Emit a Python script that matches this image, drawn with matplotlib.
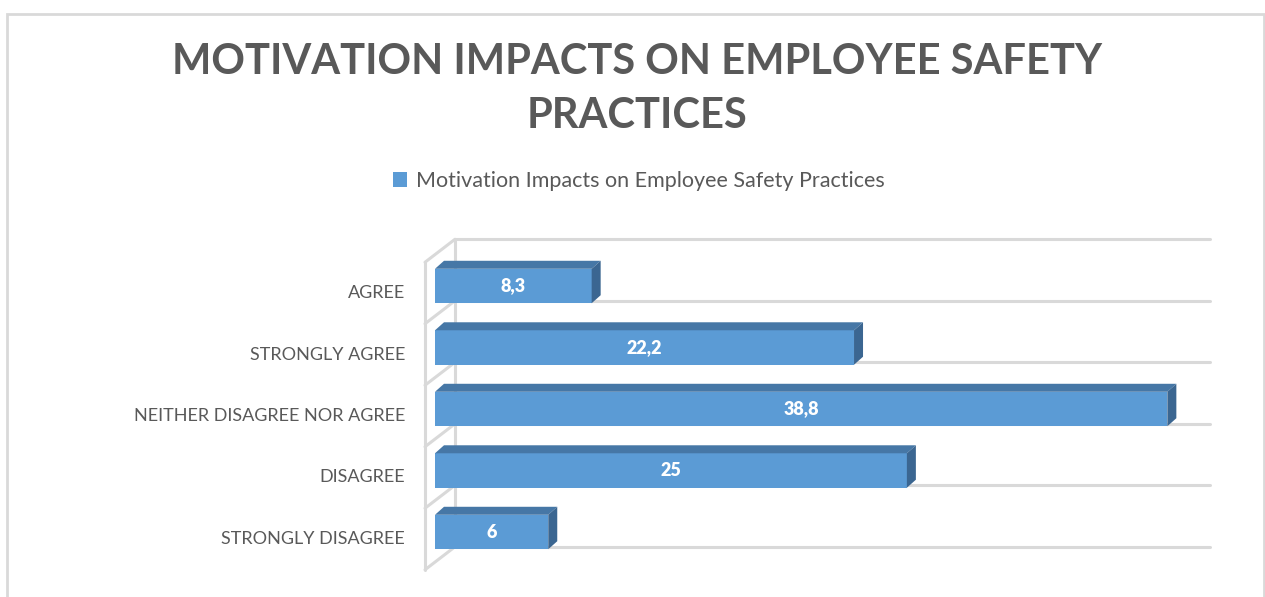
import matplotlib
matplotlib.use('Agg')
import matplotlib.pyplot as plt
from matplotlib.patches import Polygon, Rectangle
from matplotlib.lines import Line2D
from matplotlib.transforms import IdentityTransform, ScaledTranslation
import numpy as np

categories = ['STRONGLY DISAGREE', 'DISAGREE', 'NEITHER DISAGREE NOR AGREE',
              'STRONGLY AGREE', 'AGREE']
values = [6, 25, 38.8, 22.2, 8.3]
series_name = 'Motivation Impacts on Employee Safety Practices'
title = 'MOTIVATION IMPACTS ON EMPLOYEE SAFETY\nPRACTICES'

plt.rcParams['font.family'] = ['Lato', 'DejaVu Sans']
text_c = '#595959'
front_c = '#5b9bd5'
top_c = '#4677a6'
side_c = '#3b6691'
wall_c = '#d9d9d9'

W, H = 1265, 597
fig = plt.figure(figsize=(W / 100, H / 100), dpi=100)
fig.patch.set_facecolor('white')

# axes = plane of the bar front faces
ax = fig.add_axes([435 / W, 34.25 / H, 755 / W, 307.5 / H])
ax.set_xlim(0, 40)
ax.set_ylim(-0.5, 4.5)
ax.axis('off')

y = np.arange(len(categories))
bh = 0.56
bars = ax.barh(y, values, height=bh, color=front_c, zorder=3, label=series_name)

def px(x, yy, dx=0, dy=0):
    p = ax.transData.transform((x, yy))
    return (p[0] + dx, p[1] + dy)

front = (-10, -7)   # wall front plane
back = (20, 16)     # wall back plane
depth = (9, 8)      # bar depth

# walls and category gridlines (behind the bars)
lw = 2.2
def seg(p, q):
    ax.add_line(Line2D([p[0], q[0]], [p[1], q[1]], transform=IdentityTransform(),
                       color=wall_c, lw=lw, zorder=1, solid_capstyle='round',
                       clip_on=False))

seg(px(0, -0.5, *front), px(0, 4.5, *front))
seg(px(0, -0.5, *back), px(0, 4.5, *back))
for b in np.arange(-0.5, 4.6, 1.0):
    seg(px(0, b, *front), px(0, b, *back))
    seg(px(0, b, *back), px(40, b, *back))

# 3d faces of the bars
for yi, v in zip(y, values):
    t, btm = yi + bh / 2, yi - bh / 2
    top = [px(0, t), px(v, t), px(v, t, *depth), px(0, t, *depth)]
    side = [px(v, btm), px(v, t), px(v, t, *depth), px(v, btm, *depth)]
    ax.add_patch(Polygon(top, closed=True, transform=IdentityTransform(),
                         facecolor=top_c, edgecolor='none', zorder=4, clip_on=False))
    ax.add_patch(Polygon(side, closed=True, transform=IdentityTransform(),
                         facecolor=side_c, edgecolor='none', zorder=4, clip_on=False))
    lab = ('%g' % v).replace('.', ',')
    ax.text(v / 2, yi, lab, ha='center', va='center', color='white',
            fontsize=13, fontweight='heavy', zorder=5)

# category labels
lab_tr = ax.get_yaxis_transform() + ScaledTranslation(-30 / 100, -7 / 100, fig.dpi_scale_trans)
for yi, c in zip(y, categories):
    ax.text(0, yi, c, transform=lab_tr, ha='right', va='center', color=text_c,
            fontsize=13)

fig.text(637 / W, 1 - 89 / H, title, ha='center', va='center', color=text_c,
         fontsize=30, fontweight='bold', linespacing=1.5)

fig.legend(handles=[bars], labels=[series_name], loc='center',
           bbox_to_anchor=(639 / W, 1 - 181 / H), frameon=False, fontsize=15.5,
           labelcolor=text_c, handlelength=0.65, handleheight=0.65,
           handletextpad=0.4)

fig.add_artist(Rectangle((7 / W, -0.1), (1264 - 7) / W, 1.1 - 14 / H + 0.0,
                         transform=fig.transFigure, fill=False,
                         edgecolor=wall_c, lw=2))

fig.savefig('out.png', dpi=100)
